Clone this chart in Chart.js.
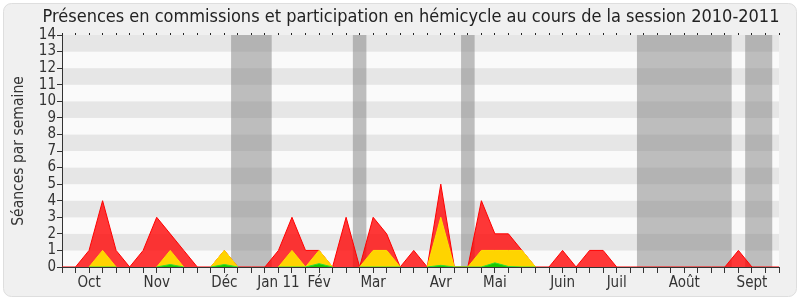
<!DOCTYPE html>
<html lang="fr">
<head>
<meta charset="utf-8">
<title>Présences 2010-2011</title>
<script src="https://cdn.jsdelivr.net/npm/chart.js@4.4.0/dist/chart.umd.min.js"></script>
<style>
  html, body { margin: 0; padding: 0; background: #fff; }
  #wrap { width: 800px; height: 300px; }
</style>
</head>
<body>
<div id="wrap"><canvas id="chart" width="800" height="300"></canvas></div>
<script>
// --- DONNEES : une valeur par semaine (54 semaines) ---
const monthLabels = ['Oct', 'Nov', 'Déc', 'Jan 11', 'Fév', 'Mar', 'Avr', 'Mai', 'Juin', 'Juil', 'Août', 'Sept'];
const monthWeeks  = [2, 7, 12, 16, 19, 23, 28, 32, 37, 41, 46, 51];

// rouge : présences en commission
const presenceRed = [
  0, 0, 1, 4, 1, 0, 1, 3, 2, 1,
  0, 0, 1, 0, 0, 0, 1, 3, 1, 1,
  0, 3, 0, 3, 2, 0, 1, 0, 5, 0,
  0, 4, 2, 2, 1, 0, 0, 1, 0, 1,
  1, 0, 0, 0, 0, 0, 0, 0, 0, 0,
  1, 0, 0, 0
];
// jaune
const presenceYellow = [
  null, null, 0, 1, 0, null, null, 0, 1, 0,
  null, 0, 1, 0, null, null, 0, 1, 0, 1,
  0, null, 0, 1, 1, 0, null, 0, 3, 0,
  0, 1, 1, 1, 1, 0, null, null, null, null,
  null, null, null, null, null, null, null, null, null, null,
  null, null, null, null
];
// vert
const presenceGreen = [
  null, null, 0, 0, 0, null, null, 0, 0.15, 0,
  null, 0, 0.15, 0, null, null, 0, 0, 0, 0.2,
  0, null, 0, 0, 0, 0, null, 0, 0.1, 0,
  0, 0, 0.25, 0.03, 0, 0, null, null, null, null,
  null, null, null, null, null, null, null, null, null, null,
  null, null, null, null
];
// semaines de vacances parlementaires (bandes grises)
const holidayWeeks = [13, 14, 15, 22, 30, 43, 44, 45, 46, 47, 48, 49, 51, 52];
const yTicks = [0, 1, 2, 3, 4, 5, 6, 7, 8, 9, 10, 11, 12, 13, 14];

const chartTitle = 'Présences en commissions et participation en hémicycle au cours de la session 2010-2011';

const weekLabels = presenceRed.map(() => '');
monthWeeks.forEach((w, k) => { weekLabels[w] = monthLabels[k]; });

const FONT = '"DejaVu Sans Condensed", "DejaVu Sans", sans-serif';

// --- FOND, BANDES ET TITRE ---
const backdrop = {
  id: 'backdrop',
  beforeDraw(chart) {
    const { ctx, chartArea: a, scales } = chart;
    ctx.save();
    ctx.fillStyle = '#ffffff';
    ctx.fillRect(0, 0, chart.width, chart.height);
    ctx.beginPath();
    ctx.roundRect(3.5, 3.5, chart.width - 7, chart.height - 7, 8);
    ctx.fillStyle = '#f0f0f0';
    ctx.fill();
    ctx.strokeStyle = '#dedede';
    ctx.stroke();

    // bandes horizontales
    for (let v = 0; v < 14; v++) {
      const y1 = scales.y.getPixelForValue(v + 1);
      const y0 = scales.y.getPixelForValue(v);
      ctx.fillStyle = v % 2 === 0 ? '#fafafa' : '#e6e6e6';
      ctx.fillRect(a.left, y1, a.right - a.left, y0 - y1);
    }
    // vacances : on regroupe les semaines qui se suivent
    ctx.fillStyle = 'rgba(128,128,128,0.5)';
    let runs = [];
    holidayWeeks.forEach(w => {
      const last = runs[runs.length - 1];
      if (last && last[1] === w - 1) last[1] = w; else runs.push([w, w]);
    });
    runs.forEach(([w0, w1]) => {
      const x0 = Math.max(a.left, scales.x.getPixelForValue(w0 - 0.5));
      const x1 = Math.min(a.right, scales.x.getPixelForValue(w1 + 0.5));
      ctx.fillRect(x0, a.top, x1 - x0, a.bottom - a.top);
    });
    ctx.restore();
  },
  afterDraw(chart) {
    const { ctx } = chart;
    ctx.save();
    ctx.font = '18px ' + FONT;
    ctx.fillStyle = '#222';
    ctx.textAlign = 'center';
    ctx.textBaseline = 'middle';
    ctx.fillText(chartTitle, 411, 17);
    ctx.restore();
  }
};

new Chart(document.getElementById('chart'), {
  type: 'line',
  data: {
    labels: weekLabels,
    datasets: [
      { data: presenceGreen, borderColor: '#33dd33', backgroundColor: 'rgba(0,200,0,0.9)' },
      { data: presenceYellow, borderColor: '#ffe000', backgroundColor: 'rgba(255,212,0,1)' },
      { data: presenceRed, borderColor: '#ff0000', backgroundColor: 'rgba(255,0,0,0.78)' }
    ].map(d => Object.assign(d, { fill: 'origin', tension: 0, pointRadius: 0, borderWidth: 1, spanGaps: false }))
  },
  options: {
    responsive: false,
    animation: false,
    layout: { padding: { top: 35, right: 21, left: 0, bottom: 0 } },
    plugins: { legend: { display: false }, tooltip: { enabled: false } },
    scales: {
      x: {
        type: 'category',
        offset: false,
        grid: { drawOnChartArea: false, drawTicks: true, tickLength: 6, color: '#333' },
        border: { color: '#333' },
        ticks: { autoSkip: false, maxRotation: 0, minRotation: 0, color: '#333', padding: 1, font: { family: FONT, size: 15 } },
        afterFit(s) { s.height = 33; }
      },
      x2: {
        type: 'category',
        position: 'top',
        offset: false,
        grid: { drawOnChartArea: false, drawTicks: true, tickLength: 2, color: '#222' },
        border: { display: false },
        ticks: { display: false },
        afterFit(s) { s.height = 0; }
      },
      y: {
        min: 0,
        max: 14,
        afterBuildTicks(s) { s.ticks = yTicks.map(v => ({ value: v })); },
        grid: { drawOnChartArea: false, drawTicks: true, tickLength: 5, color: '#333' },
        border: { color: '#333' },
        ticks: { autoSkip: false, color: '#333', padding: 1, font: { family: FONT, size: 15 } },
        title: { display: true, text: 'Séances par semaine', color: '#333', font: { family: FONT, size: 15.5 }, padding: { top: 10, bottom: 4 } },
        afterFit(s) { s.width = 62; }
      }
    }
  },
  plugins: [backdrop]
});
</script>
</body>
</html>
